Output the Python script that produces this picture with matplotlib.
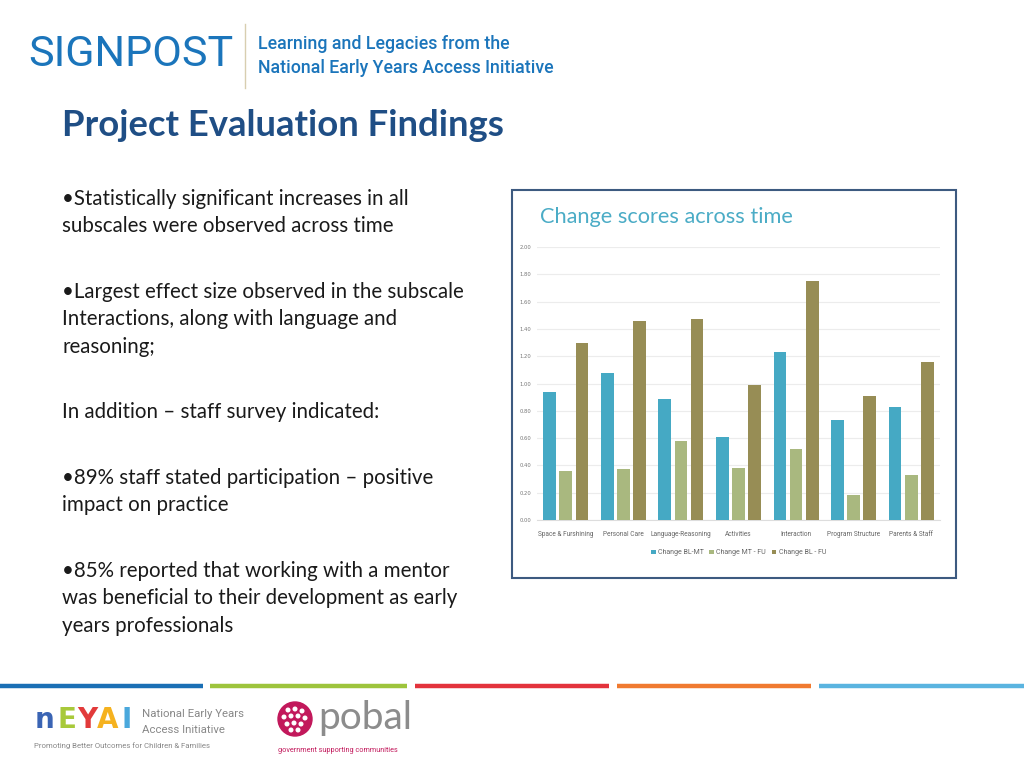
import numpy as np
import matplotlib.pyplot as plt
from matplotlib.patches import Rectangle, Ellipse
from matplotlib.lines import Line2D

# chart data
categories = ['Space & Furshining', 'Personal Care', 'Language-Reasoning', 'Activities',
              'Interaction', 'Program Structure', 'Parents & Staff']
bl_mt = [0.94, 1.08, 0.89, 0.61, 1.23, 0.73, 0.83]
mt_fu = [0.36, 0.37, 0.58, 0.38, 0.52, 0.18, 0.33]
bl_fu = [1.30, 1.46, 1.47, 0.99, 1.75, 0.91, 1.16]
series_names = ['Change BL-MT', 'Change MT - FU', 'Change BL - FU']
series_colors = ['#45a9c4', '#a9b87f', '#978d55']
yticks = [0.0, 0.2, 0.4, 0.6, 0.8, 1.0, 1.2, 1.4, 1.6, 1.8, 2.0]

bullets = [
    '\u2022Statistically significant increases in all\nsubscales were observed across time',
    '\u2022Largest effect size observed in the subscale\nInteractions, along with language and\nreasoning;',
    'In addition \u2013 staff survey indicated:',
    '\u202289% staff stated participation \u2013 positive\nimpact on practice',
    '\u202285% reported that working with a mentor\nwas beneficial to their development as early\nyears professionals',
]
bullet_tops = [189, 282, 402, 468, 561]

W, H = 1024, 768
fig = plt.figure(figsize=(10.24, 7.68), dpi=100)
fig.patch.set_facecolor('white')


def fx(px):
    return px / W


def fy(py):
    return 1 - py / H


narrow = ['Roboto', 'DejaVu Sans']
body = ['Lato', 'DejaVu Sans']

# header
fig.text(fx(28), fy(54), 'SIGNPOST', fontsize=31, color='#1b75bb', family=narrow,
         va='center', ha='left')
fig.add_artist(Line2D([fx(245), fx(245)], [fy(24), fy(88)], color='#d8ceb0', lw=1))
fig.text(fx(258), fy(44), 'Learning and Legacies from the', fontsize=12.8, color='#1b75bb',
         family=narrow, weight='medium', va='center', ha='left')
fig.text(fx(258), fy(68), 'National Early Years Access Initiative', fontsize=12.8,
         color='#1b75bb', family=narrow, weight='medium', va='center', ha='left')
fig.text(fx(62), fy(125), 'Project Evaluation Findings', fontsize=26.3, color='#1f4e85',
         family=body, weight='bold', va='center', ha='left')

for txt, top in zip(bullets, bullet_tops):
    fig.text(fx(62), fy(top), txt, fontsize=14.8, color='#1a1a1a', family=body,
             va='top', ha='left', linespacing=1.46)

# chart frame
fig.add_artist(Rectangle((fx(512), fy(578)), fx(956) - fx(512), fy(190) - fy(578),
                         transform=fig.transFigure, fill=False, ec='#3d5a80', lw=1.5))
fig.text(fx(540), fy(217), 'Change scores across time', fontsize=15.7, color='#4bacc6',
         family=body, va='center', ha='left')

ax = fig.add_axes([fx(537), fy(520), fx(940) - fx(537), fy(247) - fy(520)])
x = np.arange(len(categories))
w = 0.22
step = 0.28
for i, (vals, name, col) in enumerate(zip([bl_mt, mt_fu, bl_fu], series_names, series_colors)):
    ax.bar(x + (i - 1) * step, vals, width=w, color=col, label=name, zorder=3)

ax.set_xlim(-0.5, len(categories) - 0.5)
ax.set_ylim(0, 2.0)
ax.set_yticks(yticks)
ax.set_yticklabels(['%.2f' % t for t in yticks], fontsize=3.8, color='#777777')
ax.set_xticks(x)
ax.set_xticklabels(categories, fontsize=4.7, color='#666666', family=narrow)
ax.tick_params(axis='y', length=0, pad=4)
ax.tick_params(axis='x', length=0, pad=8)
ax.grid(axis='y', color='#ececec', lw=0.8, zorder=0)
for s in ['top', 'right', 'left']:
    ax.spines[s].set_visible(False)
ax.spines['bottom'].set_color('#dddddd')
ax.legend(loc='upper center', bbox_to_anchor=(0.5, -0.085), ncol=3, frameon=False,
          handlelength=0.7, handleheight=0.7, handletextpad=0.3,
          columnspacing=0.8, labelcolor='#666666', prop={'family': narrow, 'size': 5.0})

# footer stripes
stripes = [(0, 203, '#1a6fb5'), (210, 407, '#9dc43c'), (415, 609, '#e3333c'),
           (617, 811, '#f07a30'), (819, 1024, '#5ab4e0')]
for x0, x1, c in stripes:
    fig.add_artist(Line2D([fx(x0), fx(x1)], [fy(686), fy(686)], color=c, lw=3.2,
                          solid_capstyle='butt'))

# NEYAI logo
letters = [('n', '#3a64b4', 35), ('E', '#a8c93a', 57), ('Y', '#e23a3a', 77),
           ('A', '#f5b21f', 97), ('I', '#4aa8dc', 121)]
for ch, c, lx in letters:
    fig.text(fx(lx), fy(720), ch, fontsize=20, color=c, weight='bold',
             family=['DejaVu Sans'], va='center', ha='left')
fig.text(fx(142), fy(714), 'National Early Years', fontsize=8.2, color='#888888',
         family=narrow, va='center', ha='left')
fig.text(fx(142), fy(730), 'Access Initiative', fontsize=8.2, color='#888888',
         family=narrow, va='center', ha='left')
fig.text(fx(34), fy(746), 'Promoting Better Outcomes for Children & Families', fontsize=5.6,
         color='#888888', family=narrow, va='center', ha='left')

# pobal logo
cx, cy = 295, 719
fig.add_artist(Ellipse((fx(cx), fy(cy)), 34 / W, 34 / H, transform=fig.transFigure,
                       color='#c2185b'))
for dx, dy in [(-7, -9), (0, -10), (7, -8), (-11, -2), (-4, -3), (3, -3), (10, -1),
               (-8, 5), (-1, 4), (6, 5), (-4, 11), (3, 11)]:
    fig.add_artist(Ellipse((fx(cx + dx), fy(cy + dy)), 3.6 / W, 3.6 / H,
                           transform=fig.transFigure, color='white'))
fig.text(fx(318), fy(718), 'pobal', fontsize=28, color='#8c8c8c', family=body,
         va='center', ha='left')
fig.text(fx(278), fy(750), 'government supporting communities', fontsize=5.2, color='#c2185b',
         family=narrow, va='center', ha='left')

fig.savefig('out.png', dpi=100, facecolor='white')
